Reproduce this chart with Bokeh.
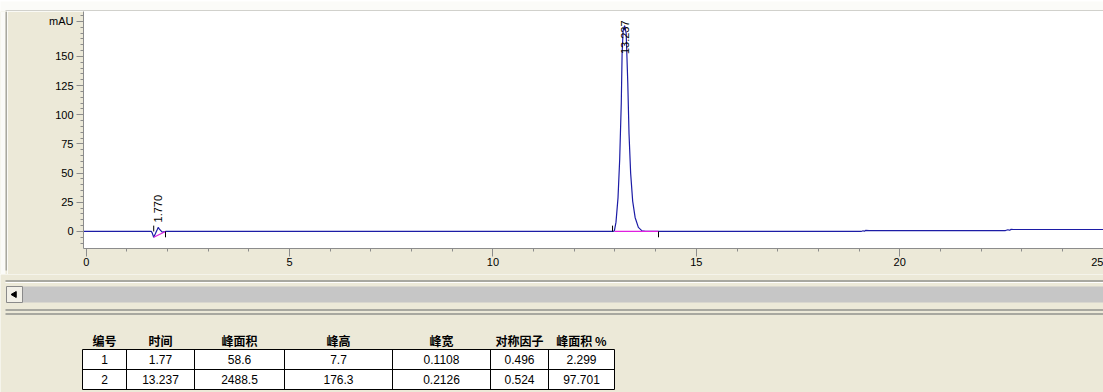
import math
from bokeh.plotting import figure
from bokeh.layouts import column, row
from bokeh.models import Range1d, FixedTicker
from bokeh.core.properties import value
from bokeh.embed import file_html
from bokeh.resources import INLINE

# ---------------- data ----------------
# chromatogram trace: retention time (min) and signal (mAU)
time_min = [-0.07, 1.60, 1.62, 1.66, 1.70, 1.745, 1.77, 1.80, 1.87, 1.95,
            12.95, 12.985, 13.025, 13.075, 13.115, 13.155, 13.175, 13.20, 13.237,
            13.275, 13.315, 13.345, 13.385, 13.435, 13.495, 13.575, 13.665, 13.75,
            19.05, 19.10, 19.13, 19.16, 19.25, 22.60, 22.66, 22.70, 22.74, 22.80, 25.1]
signal_mau = [0, 0, -1.0, -4.9, -2.0, 1.5, 3.5, 2.0, -0.6, 0,
              0, 0.5, 8, 29, 61, 110, 152, 172, 176.3,
              170, 127, 84, 50, 26, 12, 3.5, 0.5, 0,
              0, 0.6, 0.2, 0.9, 0.8, 0.8, 1.5, 1.0, 1.8, 1.7, 1.7]

# integration baselines (magenta) and peak start / end markers
base_t0 = [1.66, 12.99]
base_y0 = [-4.9, 0.0]
base_t1 = [1.95, 14.07]
base_y1 = [0.0, 0.0]
peak_start = [1.66, 12.94]
peak_end = [1.95, 14.07]

# peak table
peak_no = [1, 2]
ret_time = [1.77, 13.237]
peak_area = [58.6, 2488.5]
peak_height = [7.7, 176.3]
peak_width = [0.1108, 0.2126]
symmetry = [0.496, 0.524]
area_pct = [2.299, 97.701]
headers = ["编号", "时间", "峰面积", "峰高", "峰宽", "对称因子", "峰面积 %"]

# axis ticks
y_major = [0, 25, 50, 75, 100, 125, 150, 180]
y_labels = {180: "mAU"}
x_major = [0, 5, 10, 15, 20, 25]

# ---------------- styling ----------------
BEIGE = "#ECE9D8"
AXIS = "#8C8C8C"
FRAME_GRAY = "#A8A8A0"
LIGHT = "#FBFBF8"
TRACE = "#1C1CA6"
FONT = "Liberation Sans"
W = 1103
LEFT_W = 7


def strip(width, height, x0, x1, y_top, y_bottom, bg):
    f = figure(width=width, height=height, x_range=Range1d(x0, x1),
               y_range=Range1d(y_bottom, y_top), output_backend="svg",
               toolbar_location=None, min_border=0,
               x_axis_location=None, y_axis_location=None)
    f.grid.visible = False
    f.outline_line_color = None
    f.background_fill_color = bg
    f.border_fill_color = bg
    f.frame_align = False
    return f


# ---------------- top edge of the chart panel ----------------
t = strip(W, 11, 0, W, 0, 11, LIGHT)
t.quad(left=[5], right=[W], top=[9], bottom=[11], fill_color=FRAME_GRAY, line_color=None)

# ---------------- left edge of the chart panel ----------------
lft = strip(LEFT_W, 263, 0, LEFT_W, 11, 274, BEIGE)
lft.quad(left=[0], right=[5], top=[11], bottom=[274], fill_color=LIGHT, line_color=None)
lft.quad(left=[5], right=[6.5], top=[11], bottom=[270], fill_color=FRAME_GRAY, line_color=None)

# ---------------- chromatogram ----------------
p = figure(width=W - LEFT_W, height=263, x_range=Range1d(-0.066, 25.01),
           y_range=Range1d(-14.6, 188.5), output_backend="svg",
           toolbar_location=None, min_border_left=83 - LEFT_W, min_border_right=0,
           min_border_top=0, min_border_bottom=26)
p.frame_align = False
p.background_fill_color = "white"
p.border_fill_color = BEIGE
p.outline_line_color = None
p.grid.visible = False

p.yaxis.ticker = FixedTicker(ticks=y_major, minor_ticks=list(range(-15, 190, 5)))
p.yaxis.major_label_overrides = y_labels
p.xaxis.ticker = FixedTicker(ticks=x_major, minor_ticks=list(range(0, 26)))
for ax in (p.xaxis, p.yaxis):
    ax.axis_line_color = AXIS
    ax.major_tick_line_color = AXIS
    ax.minor_tick_line_color = AXIS
    ax.major_tick_in = 0
    ax.minor_tick_in = 0
    ax.minor_tick_out = 3
    ax.major_label_text_font = FONT
    ax.major_label_text_font_size = "11px"
    ax.major_label_text_color = "#000000"
p.yaxis.major_tick_out = 7
p.yaxis.major_label_standoff = 3
p.xaxis.major_tick_out = 8
p.xaxis.major_label_standoff = 1

p.line(time_min, signal_mau, line_color=TRACE, line_width=1.2)
p.segment(base_t0, base_y0, base_t1, base_y1, line_color="#E020E0", line_width=1.2)
p.segment(peak_start, [0] * len(peak_start), peak_start, [5] * len(peak_start),
          line_color="black", line_width=1)
p.segment(peak_end, [0] * len(peak_end), peak_end, [-5] * len(peak_end),
          line_color="black", line_width=1)

label_y = [min(h, 152) for h in peak_height]
p.text(ret_time, label_y, text=[f"{v:.3f}" for v in ret_time], angle=math.pi / 2,
       text_align="left", text_baseline="middle", text_font=value(FONT),
       text_font_size="11px", text_color="#000000")

# ---------------- lower panel: scrollbar and peak table ----------------
q = strip(W, 118, 0, W, 274, 392, BEIGE)

# bottom edge of the chart panel and separator lines
q.quad(left=[5], right=[W], top=[279.5], bottom=[281.5], fill_color=FRAME_GRAY, line_color=None)
q.quad(left=[5], right=[W], top=[281.5], bottom=[282.5], fill_color="white", line_color=None)
# scrollbar
q.quad(left=[22], right=[W], top=[286], bottom=[302], fill_color="#C6C6C6", line_color=None)
q.quad(left=[6], right=[22], top=[286], bottom=[302], fill_color="#F2F0E8",
       line_color="#8A8A8A", line_width=1)
q.scatter([14], [294], marker="triangle", angle=math.pi / 2, size=6,
          fill_color="black", line_color="black")
q.quad(left=[5], right=[W], top=[308.5], bottom=[310.5], fill_color=FRAME_GRAY, line_color=None)
q.quad(left=[5], right=[W], top=[312.5], bottom=[314.5], fill_color=FRAME_GRAY, line_color=None)

# table geometry
col_edges = [82, 126, 194, 284, 392, 490, 548, 614]
row_edges = [349, 369, 389]
header_y = 340
centers = [(col_edges[i] + col_edges[i + 1]) / 2 for i in range(len(col_edges) - 1)]
row_centers = [(row_edges[i] + row_edges[i + 1]) / 2 for i in range(len(row_edges) - 1)]

q.quad(left=[col_edges[0]], right=[col_edges[-1]], top=[row_edges[0]], bottom=[row_edges[-1]],
       fill_color="white", line_color=None)
q.segment([col_edges[0]] * len(row_edges), row_edges, [col_edges[-1]] * len(row_edges), row_edges,
          line_color="black", line_width=1)
q.segment(col_edges, [row_edges[0]] * len(col_edges), col_edges, [row_edges[-1]] * len(col_edges),
          line_color="black", line_width=1)

q.text(centers, [header_y] * len(headers), text=headers, text_align="center",
       text_baseline="middle", text_font=value("Noto Sans CJK SC"), text_font_style="bold",
       text_font_size="12px", text_color="black")

columns = [peak_no, ret_time, peak_area, peak_height, peak_width, symmetry, area_pct]
for ci, col in enumerate(columns):
    q.text([centers[ci]] * len(col), row_centers, text=[str(v) for v in col],
           text_align="center", text_baseline="middle",
           text_font=value(FONT), text_font_size="12px", text_color="black")

middle = row(lft, p, spacing=0)
layout = column(t, middle, q, spacing=0)
open("out.html", "w").write(file_html(layout, INLINE))
